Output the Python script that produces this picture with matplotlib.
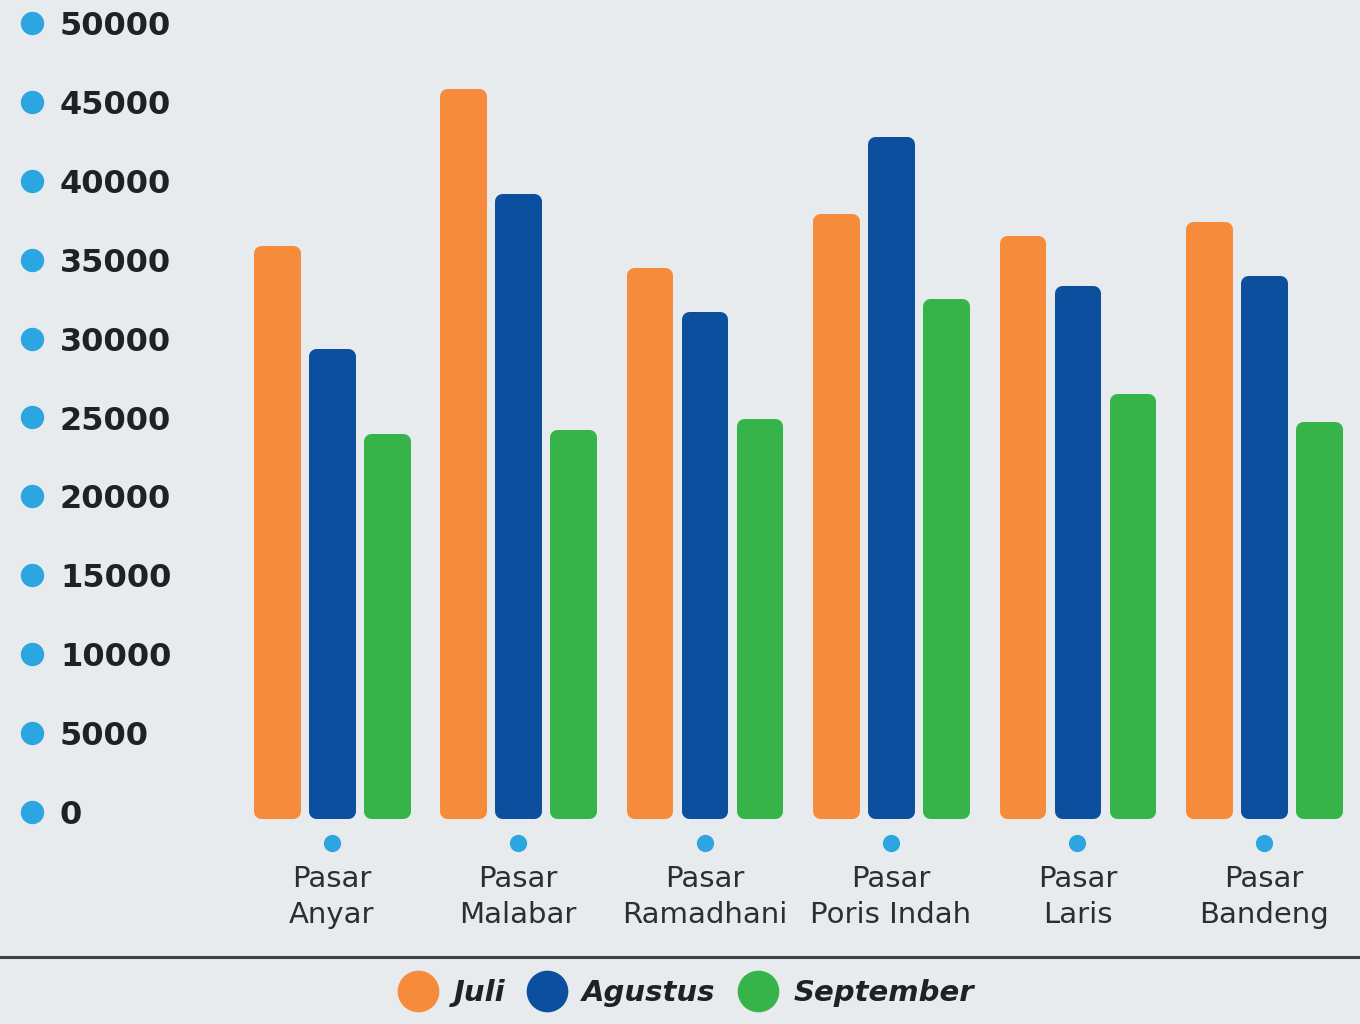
import matplotlib
matplotlib.use("Agg")
import matplotlib.pyplot as plt
from matplotlib.transforms import blended_transform_factory
from matplotlib.lines import Line2D
import numpy as np

# ---- data ----
categories = ["Pasar\nAnyar", "Pasar\nMalabar", "Pasar\nRamadhani",
              "Pasar\nPoris Indah", "Pasar\nLaris", "Pasar\nBandeng"]
series_names = ["Juli", "Agustus", "September"]
juli = [35400, 45400, 34000, 37450, 36050, 36950]
agustus = [28900, 38700, 31250, 42350, 32900, 33500]
september = [23500, 23750, 24450, 32050, 26050, 24250]
y_ticks = [0, 5000, 10000, 15000, 20000, 25000, 30000, 35000, 40000, 45000, 50000]
y_tick_labels = [str(t) for t in y_ticks]

# ---- style ----
colors = ["#f68c3b", "#0c4f9e", "#36b44a"]
dot_color = "#2ba6e1"
bg = "#e8ebee"
text_color = "#1f2126"
font = "DejaVu Sans"

W, H = 1360, 1024
fig = plt.figure(figsize=(W / 100, H / 100), dpi=100, facecolor=bg)

# axes placement in pixels
y0_px, y50_px = 812, 23
x_left_px, x_right_px = 238.5, 1357
ax = fig.add_axes([x_left_px / W, (H - y0_px) / H,
                   (x_right_px - x_left_px) / W, (y0_px - y50_px) / H])
ax.set_facecolor("none")
ax.set_xlim(-0.5, len(categories) - 0.5)
ax.set_ylim(0, 50000)
for s in ax.spines.values():
    s.set_visible(False)

x = np.arange(len(categories))
pitch = 0.295
bar_w = 0.170
lw_pts = 15 * 72 / 100  # rounded ends
for i, (vals, c) in enumerate(zip([juli, agustus, september], colors)):
    bars = ax.bar(x + (i - 1) * pitch, [v - 95 for v in vals], bottom=95,
                  width=bar_w, color=c, edgecolor=c, linewidth=lw_pts,
                  label=series_names[i], zorder=3)
    for b in bars:
        b.set_joinstyle("round")
        b.set_clip_on(False)

# y ticks
ax.set_yticks(y_ticks)
ax.set_yticklabels(y_tick_labels)
pad_pts = (x_left_px - 60) * 72 / 100
ax.tick_params(axis="y", length=0, pad=pad_pts, labelsize=23, labelcolor=text_color)
for lab in ax.get_yticklabels():
    lab.set_ha("left")
    lab.set_fontfamily(font)
    lab.set_fontweight("bold")

# y dots
ytr = blended_transform_factory(fig.transFigure, ax.transData)
ax.scatter([32 / W] * len(y_ticks), y_ticks, s=250, color=dot_color,
           transform=ytr, clip_on=False, zorder=4)

# x ticks
ax.set_xticks(x)
ax.set_xticklabels(categories)
ax.tick_params(axis="x", length=0, pad=(865 - y0_px) * 72 / 100, labelsize=21,
               labelcolor="#2a2e35")
for lab in ax.get_xticklabels():
    lab.set_fontfamily(font)
    lab.set_linespacing(1.35)
    lab.set_va("top")

xtr = blended_transform_factory(ax.transData, fig.transFigure)
ax.scatter(x, [(H - 843) / H] * len(x), s=130, color=dot_color,
           transform=xtr, clip_on=False, zorder=4)

# separator line
fig.add_artist(Line2D([0, 1], [(H - 957) / H] * 2, transform=fig.transFigure,
                      color="#3b4048", linewidth=2.2))

# legend
handles = [Line2D([], [], marker="o", linestyle="none", markersize=29,
                  markerfacecolor=c, markeredgecolor=c) for c in colors]
leg = fig.legend(handles, series_names, ncol=3, loc="center",
                 bbox_to_anchor=(688 / W, (H - 993) / H), frameon=False,
                 handlelength=1.1, handletextpad=0.65, columnspacing=0.9,
                 prop={"family": font, "weight": "bold", "style": "italic", "size": 21})
for t in leg.get_texts():
    t.set_color(text_color)

fig.savefig("out.png", dpi=100, facecolor=bg)
